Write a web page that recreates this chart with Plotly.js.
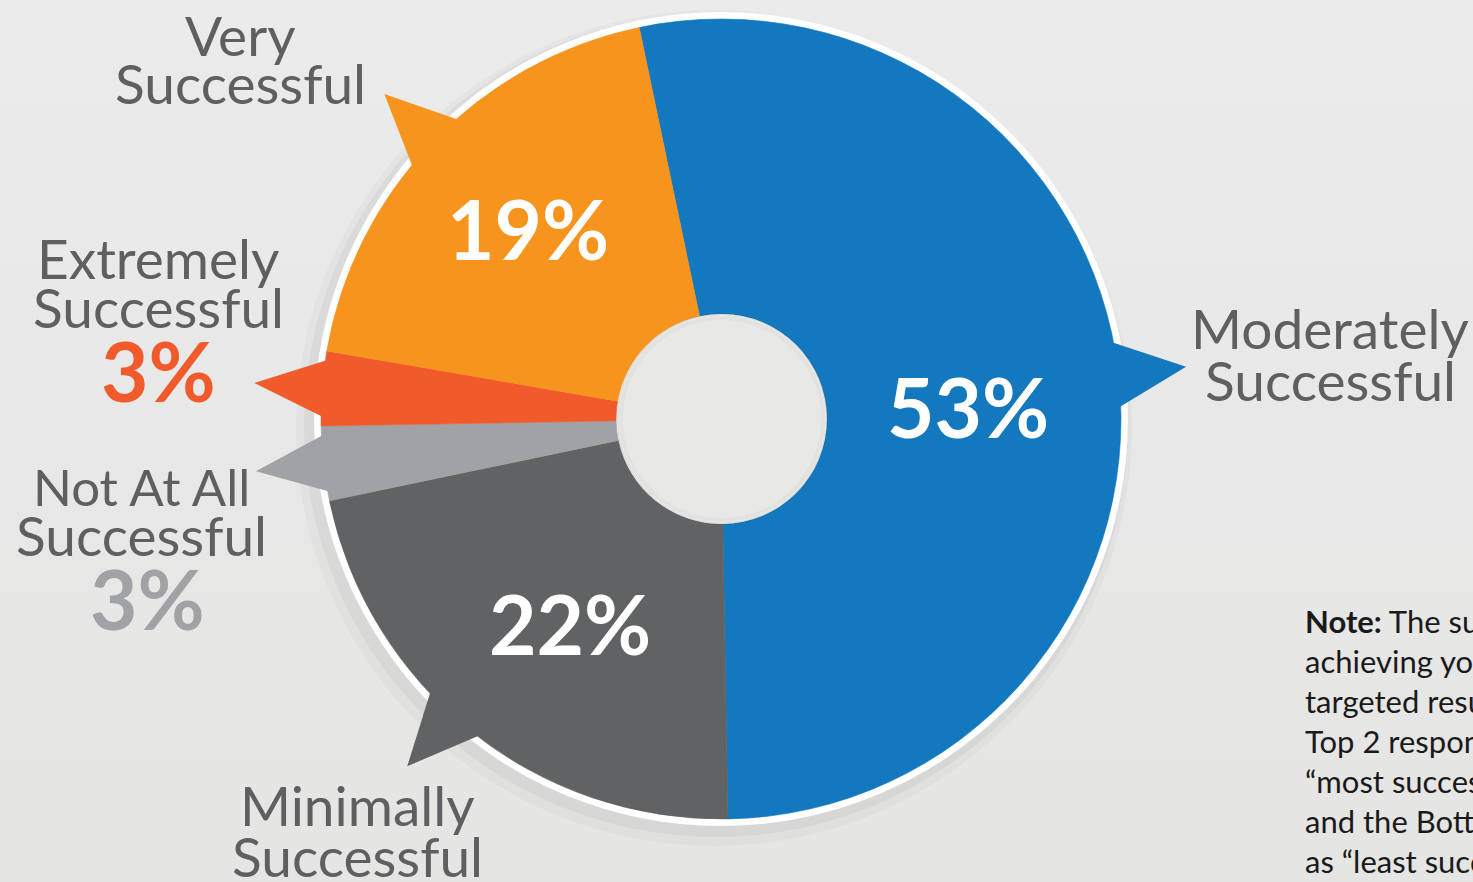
<!DOCTYPE html>
<html>
<head>
<meta charset="utf-8">
<script src="https://cdn.plot.ly/plotly-3.0.1.min.js"></script>
<style>
  html, body { margin:0; padding:0; width:1473px; height:882px; overflow:hidden;
    background: linear-gradient(#ecebeb, #e5e5e4); }
  #chart { width:1473px; height:882px; }
</style>
</head>
<body>
<div id="chart"></div>
<script>
// ---------- DATA ----------
const labels = ["Moderately Successful", "Minimally Successful", "Not At All Successful", "Extremely Successful", "Very Successful"];
const values = [53, 22, 3, 3, 19];
const colors = ["#1378bd", "#616264", "#a1a2a6", "#f15a2b", "#f7941e"];
const labelLines = [["Moderately", "Successful"], ["Minimally", "Successful"], ["Not At All", "Successful"], ["Extremely", "Successful"], ["Very", "Successful"]];
const percentInside = [true, true, false, false, true];
const noteLines = [
  "<b>Note:</b> The success rate in",
  "achieving your organization’s",
  "targeted results, with the",
  "Top 2 responses grouped as",
  "“most successful” (4 and 5)",
  "and the Bottom 2 responses",
  "as “least successful” (1 and 2)."
];

// ---------- LAYOUT CONFIG (pixels) ----------
const W = 1473, H = 882;
const cx = 721, cy = 419, R = 400, holeR = 105;
const rotation = -11.8;
const pointerShift = [0, 3.5, 0, 0, 0];   // degrees, visual offset of the pointer from the slice middle
const labelPos = [
  {x: 1330, base: [348, 400]},
  {x: 357,  base: [825, 876]},
  {x: 141,  base: [505, 555], sizes: [51, 55], pct: {x: 147, base: 628}},
  {x: 158,  base: [278, 327], pct: {x: 158, base: 400}},
  {x: 240,  base: [55, 103]}
];
const insidePos = [
  {x: 968, base: 436},
  {x: 570, base: 653},
  null, null,
  {x: 528, base: 258}
];
const textColor = "#5e5f61";
const FONT = "Lato, 'Open Sans', sans-serif";
const labelSize = 55, pctSize = 82;
const bg = "#e8e8e7";

const px = x => x / W;
const py = y => 1 - y / H;
const midY = (base, fs) => py(base - 0.36 * fs);

// slice angles (degrees from 12 o'clock, clockwise)
const total = values.reduce((a, b) => a + b, 0);
const angles = [];
let cur = rotation;
values.forEach(v => { const span = v / total * 360; angles.push({a0: cur, a1: cur + span, mid: cur + span / 2, span}); cur += span; });

function pt(ang, r) { const a = ang * Math.PI / 180; return [cx + r * Math.sin(a), cy - r * Math.cos(a)]; }
function toPath(pts) {
  return "M " + pts.map(p => px(p[0]).toFixed(5) + "," + py(p[1]).toFixed(5)).join(" L ") + " Z";
}
function circ(ox, oy, r, fill, layer, line) {
  return {type: "circle", xref: "paper", yref: "paper", layer: layer,
    x0: px(ox - r), x1: px(ox + r), y0: py(oy + r), y1: py(oy - r),
    fillcolor: fill, line: line || {width: 0}};
}

const shapes = [];
// soft shadow
shapes.push(circ(cx - 7, cy + 9, 418, "rgba(0,0,0,0.025)", "below"));
shapes.push(circ(cx - 5, cy + 6, 412, "rgba(0,0,0,0.04)", "below"));
// white ring
shapes.push(circ(cx, cy, R + 7, "#ffffff", "below"));
// pointers
angles.forEach((s, i) => {
  const hw = Math.min(5, s.span * 0.4);
  const m = s.mid + pointerShift[i];
  const tip = pt(m, 468);
  const b1 = pt(m - hw, 395);
  const b2 = pt(m + hw, 395);
  shapes.push({type: "path", xref: "paper", yref: "paper", layer: "below",
    path: toPath([b1, tip, b2]), fillcolor: colors[i], line: {width: 0}});
});
// hole (background showing through, with faint rim shading)
shapes.push(circ(cx + 1, cy, holeR, bg, "above", {color: "rgba(0,0,0,0.06)", width: 2}));
shapes.push(circ(cx + 1, cy, holeR - 4, bg, "above", {color: "rgba(0,0,0,0.025)", width: 4}));

const annotations = [];
labelLines.forEach((lines, i) => {
  const p = labelPos[i];
  lines.forEach((t, j) => {
    const fs = p.sizes ? p.sizes[j] : labelSize;
    annotations.push({text: t, x: px(p.x), y: midY(p.base[j], fs), xref: "paper", yref: "paper",
      xanchor: "center", yanchor: "middle", showarrow: false,
      font: {family: FONT, size: fs, color: textColor}});
  });
  if (!percentInside[i] && p.pct) {
    annotations.push({text: "<b>" + values[i] + "%</b>", x: px(p.pct.x), y: midY(p.pct.base, pctSize),
      xref: "paper", yref: "paper", xanchor: "center", yanchor: "middle", showarrow: false,
      font: {family: FONT, size: pctSize, color: colors[i]}});
  }
  if (percentInside[i]) {
    const q = insidePos[i];
    annotations.push({text: "<b>" + values[i] + "%</b>", x: px(q.x), y: midY(q.base, pctSize),
      xref: "paper", yref: "paper", xanchor: "center", yanchor: "middle", showarrow: false,
      font: {family: FONT, size: pctSize, color: "#ffffff"}});
  }
});
noteLines.forEach((t, j) => {
  annotations.push({text: t, x: px(1303), y: midY(632 + 40 * j, 31), xref: "paper", yref: "paper",
    xanchor: "left", yanchor: "middle", showarrow: false,
    font: {family: FONT, size: 31, color: "#1a1a1a"}});
});

const trace = {
  type: "pie",
  labels: labels,
  values: values,
  sort: false,
  direction: "clockwise",
  rotation: rotation,
  hole: holeR / R,
  textinfo: "none",
  hoverinfo: "label+percent",
  marker: {colors: colors, line: {color: colors, width: 0.6}},
  domain: {x: [px(cx - R), px(cx + R)], y: [py(cy + R), py(cy - R)]},
  showlegend: false
};

const layout = {
  width: W, height: H,
  margin: {l: 0, r: 0, t: 0, b: 0},
  paper_bgcolor: "rgba(0,0,0,0)",
  plot_bgcolor: "rgba(0,0,0,0)",
  showlegend: false,
  shapes: shapes,
  annotations: annotations
};

Plotly.newPlot("chart", [trace], layout, {displayModeBar: false, staticPlot: true});
</script>
</body>
</html>
